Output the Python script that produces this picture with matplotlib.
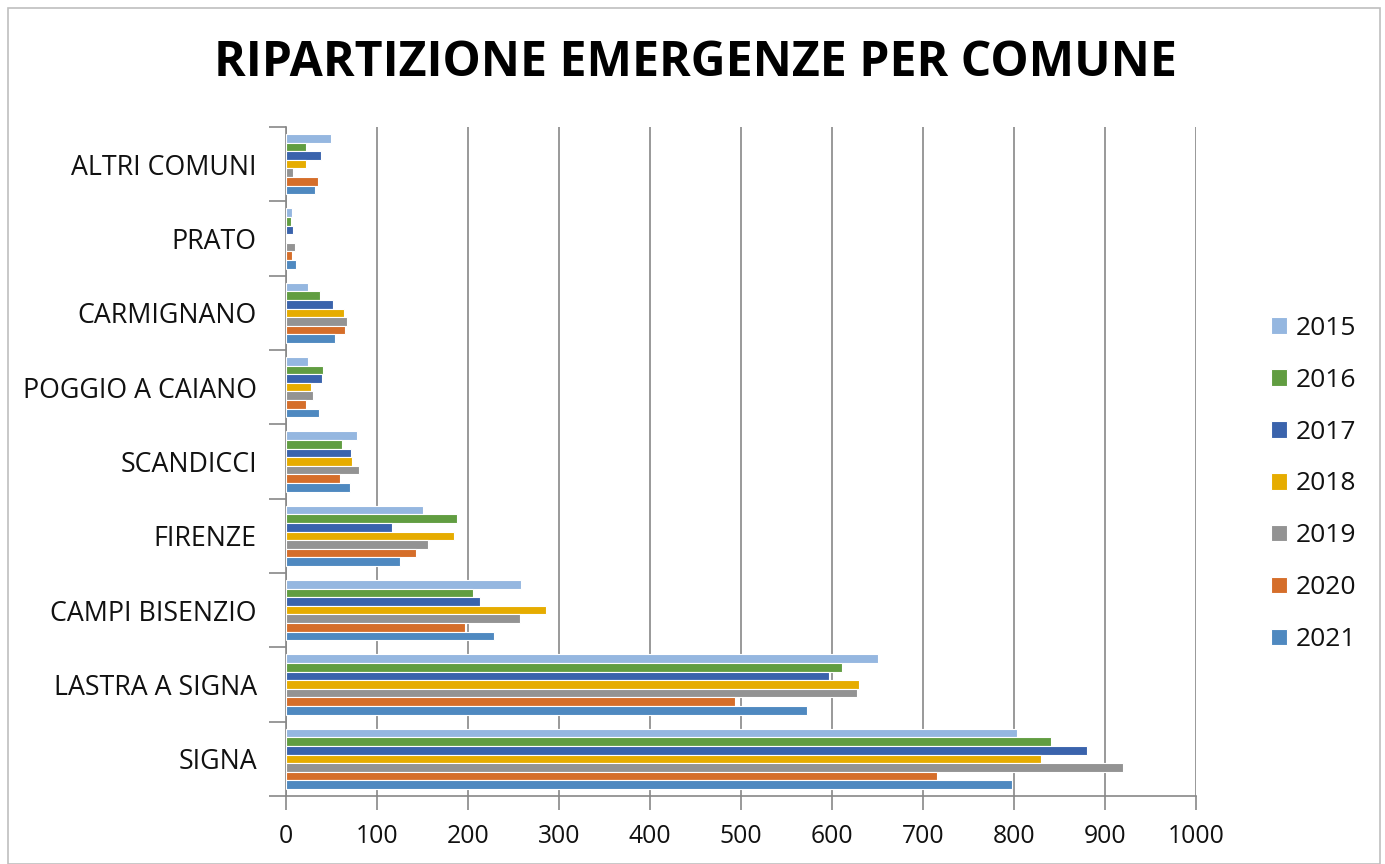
import matplotlib
matplotlib.use("Agg")
import matplotlib.pyplot as plt
import numpy as np
from matplotlib.patches import Rectangle

plt.rcParams['font.family'] = ['Open Sans', 'DejaVu Sans']

# Categories listed bottom to top
comuni = ['SIGNA', 'LASTRA A SIGNA', 'CAMPI BISENZIO', 'FIRENZE', 'SCANDICCI',
          'POGGIO A CAIANO', 'CARMIGNANO', 'PRATO', 'ALTRI COMUNI']
anni = ['2015', '2016', '2017', '2018', '2019', '2020', '2021']

v2015 = [803, 650, 258, 151, 78, 24, 24, 7, 49]
v2016 = [841, 611, 205, 188, 62, 41, 37, 5, 22]
v2017 = [880, 597, 213, 116, 71, 40, 52, 8, 38]
v2018 = [830, 630, 286, 185, 72, 27, 64, 0, 22]
v2019 = [920, 627, 257, 156, 80, 30, 67, 10, 8]
v2020 = [715, 493, 197, 143, 59, 22, 65, 7, 35]
v2021 = [798, 573, 229, 125, 70, 36, 54, 11, 32]
serie = [v2015, v2016, v2017, v2018, v2019, v2020, v2021]

colori = ['#95B7E0', '#619D41', '#3A63AC', '#E6AC00', '#939393', '#D56E2A', '#4F89C0']

fig = plt.figure(figsize=(13.85, 8.64), dpi=100)
ax = fig.add_axes([286 / 1385, 1 - 796 / 864, 910 / 1385, 669 / 864])

# chart area border
fig.patches.append(Rectangle((8 / 1385, 0), 1372 / 1385, 856 / 864, transform=fig.transFigure,
                             fill=False, edgecolor='#BFBFBF', linewidth=1.2))

y = np.arange(len(comuni))
h = 0.116
for i, (vals, col) in enumerate(zip(serie, colori)):
    ax.barh(y + (3 - i) * h, vals, height=h, color=col, edgecolor='white',
            linewidth=0.8, label=anni[i], zorder=3)

ax.set_xlim(0, 1000)
ax.set_ylim(-0.5, len(comuni) - 0.5)
ax.set_xticks(np.arange(0, 1001, 100))
ax.set_yticks(y)
ax.set_yticklabels(comuni)
ax.set_yticks(np.arange(-0.5, len(comuni), 1), minor=True)
ax.tick_params(axis='y', which='major', length=0, pad=21, labelsize=19.3, labelcolor='#111111')
ax.tick_params(axis='y', which='minor', length=12, width=1.2, color='#878787')
ax.tick_params(axis='x', which='major', length=10, width=1.2, color='#878787',
               labelsize=17.8, labelcolor='#111111', pad=10)

ax.grid(axis='x', color='#878787', linewidth=1.2, zorder=0)
for s in ['top', 'right']:
    ax.spines[s].set_visible(False)
for s in ['left', 'bottom']:
    ax.spines[s].set_color('#878787')
    ax.spines[s].set_linewidth(1.2)

fig.text(695 / 1385, 1 - 64 / 864, 'RIPARTIZIONE EMERGENZE PER COMUNE', ha='center', va='center',
         fontsize=34.7, fontweight='bold', color='#000000')

handles, labels = ax.get_legend_handles_labels()
leg = fig.legend(handles, labels, loc='center left', bbox_to_anchor=(1247 / 1385, 1 - 484 / 864),
                 frameon=False, fontsize=19, handlelength=0.6, handleheight=0.6,
                 labelspacing=1.02, handletextpad=0.35)
for t in leg.get_texts():
    t.set_color('#111111')

fig.savefig('out.png', dpi=100)
